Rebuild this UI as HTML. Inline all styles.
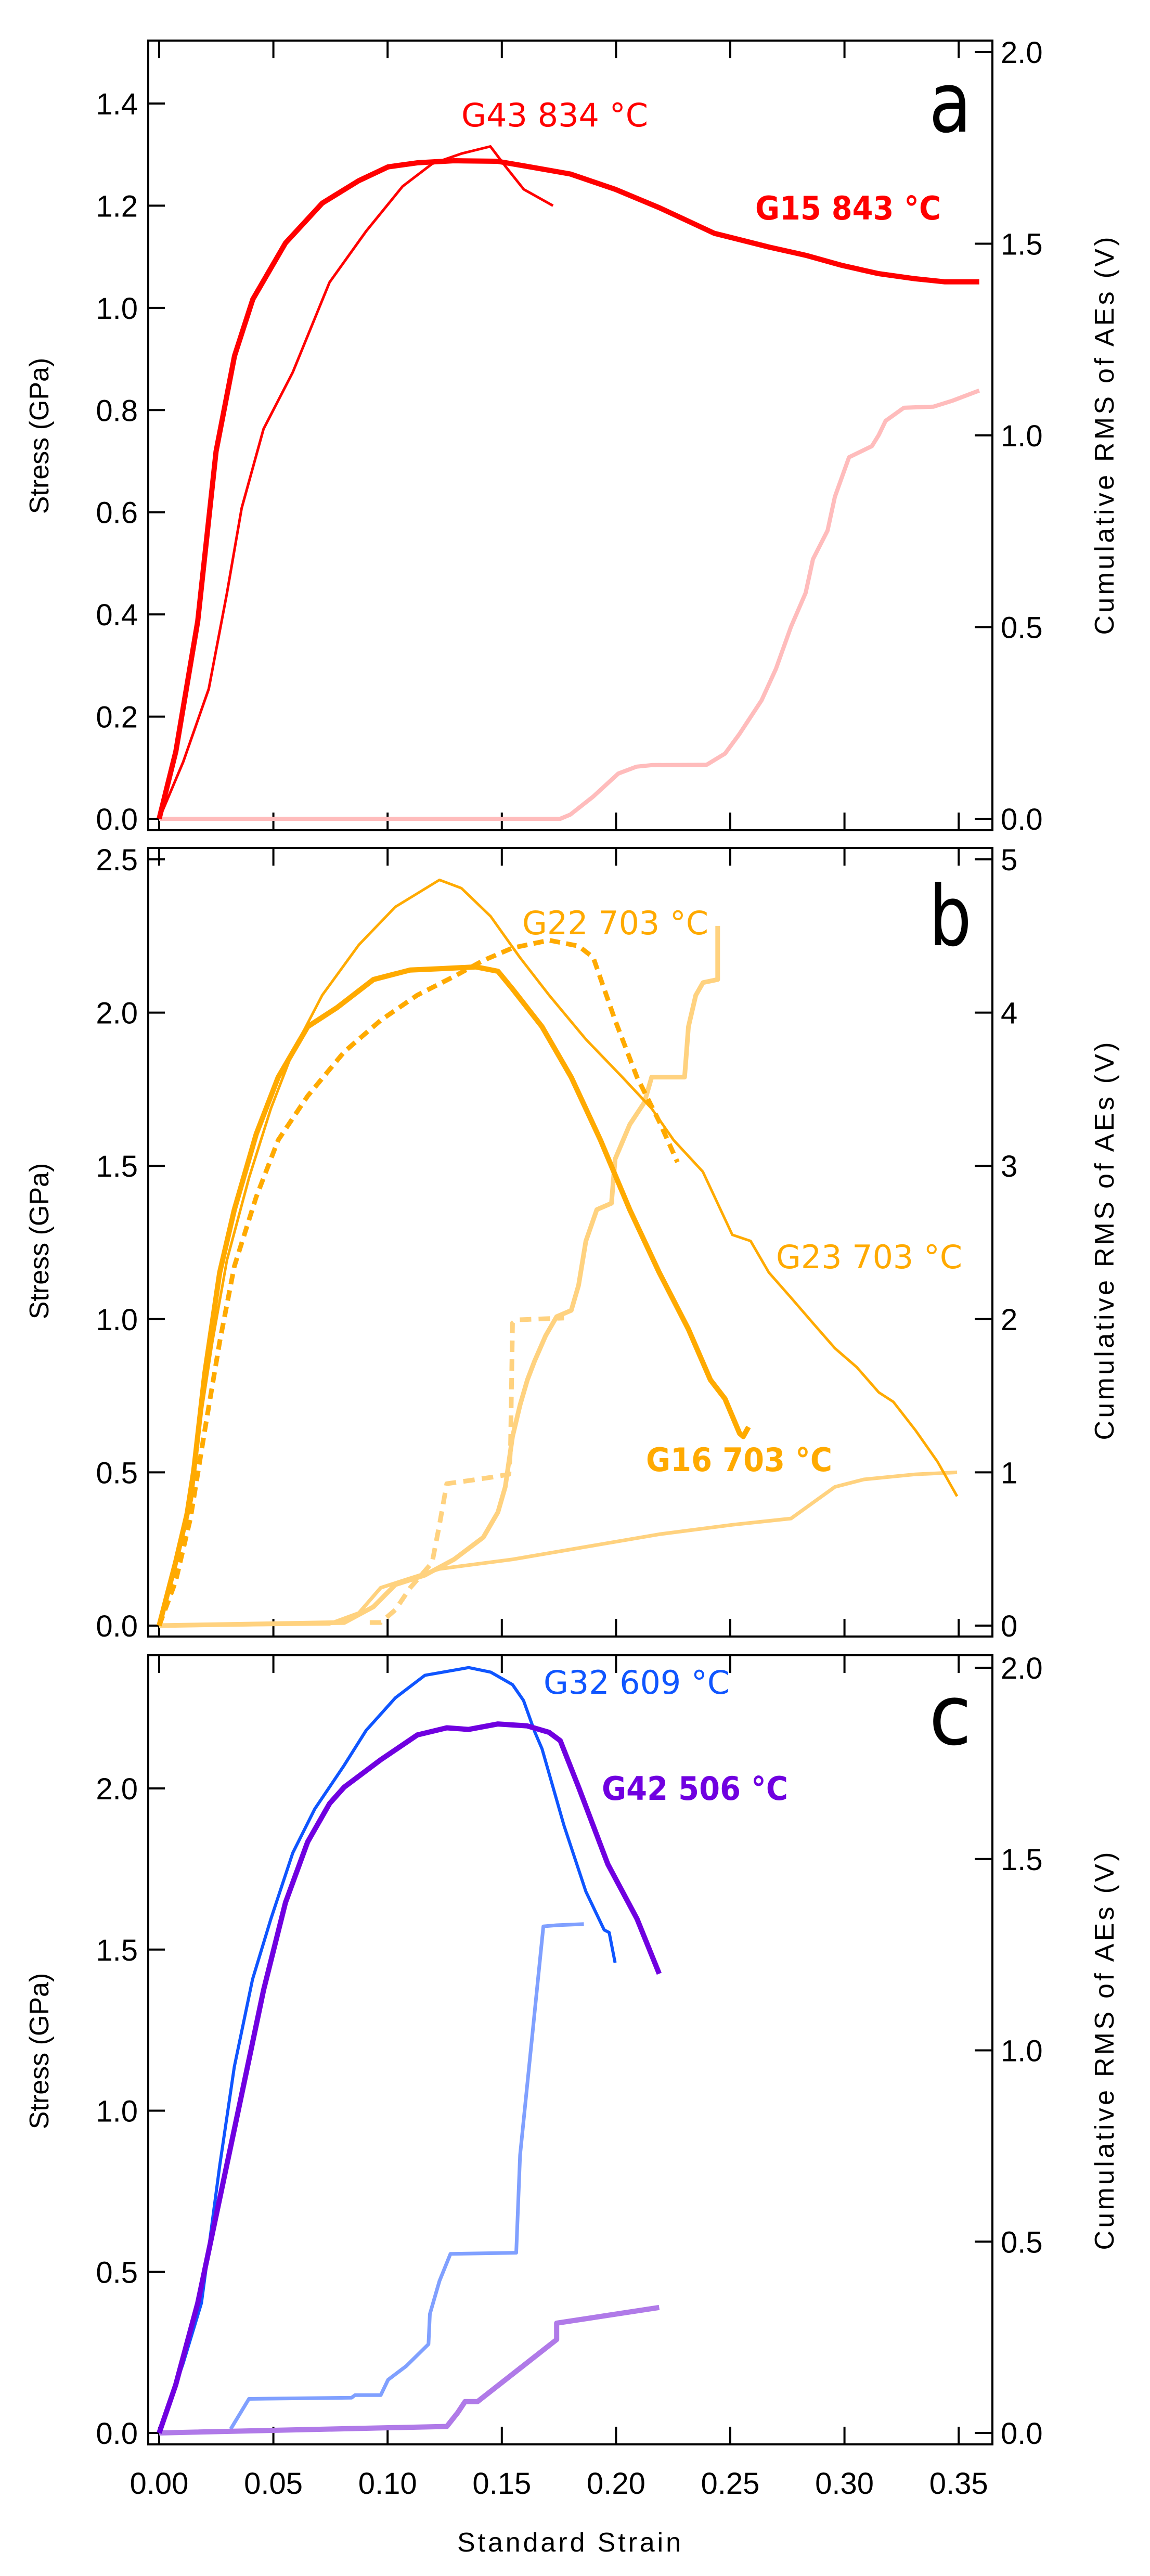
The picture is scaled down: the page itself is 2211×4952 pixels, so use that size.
<!DOCTYPE html>
<html><head><meta charset="utf-8"><style>
html,body{margin:0;padding:0;background:#fff}
svg{display:block}
.tk{font-family:"Liberation Sans",sans-serif;font-size:58px;fill:#000}
.ti{font-family:"Liberation Sans",sans-serif;font-size:52px;fill:#000}
.lb{font-family:"DejaVu Sans",sans-serif;font-size:62px}
.pl{font-family:"DejaVu Sans",sans-serif;font-size:160px;fill:#000}
</style></head><body>
<svg id="chart" width="2211" height="4952" viewBox="0 0 2211 4952" xmlns="http://www.w3.org/2000/svg"></svg>
<script>
// ---------- data (strain, stress GPa / cumulative RMS V) ----------
const xTicks=[0,0.05,0.10,0.15,0.20,0.25,0.30,0.35];
const xTickLabels=["0.00","0.05","0.10","0.15","0.20","0.25","0.30","0.35"];
const aLeftTicks=[0,0.2,0.4,0.6,0.8,1.0,1.2,1.4];
const aRightTicks=[0,0.5,1.0,1.5,2.0];
const bLeftTicks=[0,0.5,1.0,1.5,2.0,2.5];
const bRightTicks=[0,1,2,3,4,5];
const cLeftTicks=[0,0.5,1.0,1.5,2.0];
const cRightTicks=[0,0.5,1.0,1.5,2.0];

const g15Strain=[0,0.0073,0.0169,0.0249,0.033,0.041,0.0553,0.0714,0.0874,0.1002,0.1131,0.129,0.148,0.161,0.18,0.1997,0.219,0.232,0.243,0.267,0.283,0.299,0.315,0.331,0.344,0.359];
const g15Stress=[0,0.132,0.387,0.719,0.906,1.017,1.127,1.205,1.249,1.276,1.284,1.288,1.287,1.277,1.262,1.232,1.196,1.169,1.146,1.119,1.103,1.083,1.067,1.057,1.051,1.051];
const g43Strain=[0,0.0105,0.0217,0.0297,0.0361,0.0457,0.0585,0.0746,0.0906,0.1066,0.1195,0.1323,0.145,0.1516,0.1596,0.1724];
const g43Stress=[0,0.111,0.254,0.442,0.608,0.763,0.874,1.05,1.15,1.238,1.282,1.302,1.316,1.277,1.232,1.20];
const aeAStrain=[0,0.1756,0.180,0.190,0.201,0.209,0.2157,0.2397,0.2477,0.254,0.2637,0.270,0.2766,0.283,0.2862,0.2926,0.2958,0.302,0.312,0.315,0.318,0.326,0.339,0.347,0.359];
const aeAValue=[0,0,0.011,0.058,0.118,0.136,0.14,0.141,0.17,0.221,0.309,0.391,0.501,0.589,0.677,0.752,0.84,0.943,0.972,1.001,1.038,1.072,1.075,1.09,1.117];

const g23Strain=[0,0.0057,0.0105,0.0169,0.0233,0.0297,0.0393,0.0489,0.0585,0.0714,0.0874,0.1034,0.1227,0.1323,0.1451,0.1579,0.1707,0.1868,0.2028,0.2156,0.2252,0.238,0.2509,0.2589,0.2669,0.2766,0.2862,0.2958,0.3054,0.315,0.3214,0.331,0.3407,0.3493];
const g23Stress=[0,0.165,0.309,0.617,0.926,1.193,1.46,1.687,1.872,2.057,2.221,2.345,2.433,2.406,2.314,2.18,2.057,1.913,1.789,1.687,1.584,1.481,1.275,1.255,1.152,1.07,0.987,0.905,0.843,0.761,0.73,0.638,0.535,0.422];
const g16Strain=[0,0.0072,0.0137,0.020,0.0265,0.0329,0.0425,0.0521,0.065,0.0778,0.0938,0.1099,0.1227,0.1387,0.1483,0.1547,0.1676,0.1804,0.1932,0.206,0.2189,0.2317,0.2413,0.2477,0.2541,0.2557,0.258];
const g16Stress=[0,0.206,0.411,0.823,1.152,1.357,1.604,1.789,1.954,2.016,2.108,2.139,2.143,2.149,2.135,2.077,1.954,1.789,1.584,1.357,1.152,0.967,0.802,0.74,0.627,0.617,0.648];
const g22Strain=[0,0.0072,0.0137,0.020,0.0265,0.0329,0.0425,0.0521,0.065,0.081,0.097,0.113,0.1291,0.1419,0.1547,0.1707,0.1836,0.19,0.1996,0.2092,0.2189,0.2269];
const g22Stress=[0,0.144,0.35,0.638,0.926,1.172,1.399,1.584,1.728,1.872,1.975,2.057,2.118,2.17,2.211,2.236,2.217,2.18,1.975,1.789,1.645,1.512];
const aeG23Strain=[0,0.0746,0.0874,0.097,0.1099,0.1227,0.1547,0.1868,0.2189,0.2509,0.2766,0.2862,0.2958,0.3085,0.331,0.3493];
const aeG23Value=[0,0.012,0.082,0.247,0.309,0.37,0.432,0.514,0.596,0.658,0.699,0.802,0.905,0.954,0.987,1.0];
const aeG16Strain=[0,0.081,0.0938,0.1034,0.1163,0.1291,0.1419,0.1483,0.1515,0.1547,0.158,0.1612,0.1644,0.1692,0.174,0.1804,0.1836,0.1868,0.1916,0.198,0.1996,0.206,0.2124,0.2156,0.23,0.2317,0.2349,0.2381,0.2445,0.2445];
const aeG16Value=[0,0.02,0.123,0.267,0.329,0.432,0.576,0.74,0.905,1.234,1.44,1.604,1.728,1.892,2.016,2.057,2.221,2.509,2.715,2.756,3.044,3.27,3.414,3.579,3.579,3.908,4.113,4.196,4.216,4.566];
const aeG22Strain=[0.0922,0.097,0.1034,0.1099,0.1195,0.1227,0.1259,0.1355,0.1451,0.1531,0.1538,0.1547,0.1563,0.1772];
const aeG22Value=[0.02,0.02,0.103,0.247,0.411,0.658,0.926,0.946,0.967,0.987,1.152,1.975,1.995,2.007];

const g32Strain=[0,0.0105,0.0185,0.0265,0.0329,0.0409,0.0489,0.0585,0.0681,0.081,0.0906,0.1034,0.1163,0.1355,0.1451,0.1547,0.1595,0.1644,0.1676,0.1772,0.1868,0.1948,0.197,0.1996];
const g32Stress=[0,0.216,0.403,0.829,1.136,1.408,1.595,1.8,1.936,2.072,2.18,2.281,2.351,2.375,2.361,2.322,2.273,2.176,2.123,1.885,1.68,1.561,1.553,1.459];
const g42Strain=[0,0.0072,0.0169,0.0265,0.0361,0.0457,0.0553,0.065,0.0746,0.081,0.097,0.113,0.1259,0.1355,0.1483,0.1611,0.1707,0.1756,0.1836,0.1964,0.2092,0.2189];
const g42Stress=[0,0.148,0.403,0.727,1.05,1.374,1.646,1.834,1.953,2.004,2.089,2.166,2.188,2.183,2.2,2.194,2.174,2.148,2.004,1.765,1.595,1.425];
const aeG32Strain=[0.0313,0.0393,0.0842,0.0858,0.097,0.1002,0.1082,0.1179,0.1185,0.1227,0.1275,0.1563,0.158,0.1682,0.174,0.1859];
const aeG32Value=[0.01,0.089,0.092,0.099,0.099,0.139,0.175,0.232,0.311,0.397,0.468,0.471,0.726,1.324,1.327,1.33];
const aeG42Strain=[0,0.1259,0.1307,0.1339,0.1394,0.174,0.174,0.2189];
const aeG42Value=[0,0.017,0.053,0.082,0.082,0.244,0.287,0.328];

// ---------- helpers ----------
const NS="http://www.w3.org/2000/svg";
const svg=document.getElementById('chart');
function mk(tag,attrs,parent){const e=document.createElementNS(NS,tag);for(const k in attrs)e.setAttribute(k,attrs[k]);(parent||svg).appendChild(e);return e;}
const X0=306, XPER=4392;
function xs(v){return X0+v*XPER;}
const FL=285, FR=1908;

function panel(name,top,bottom,y0,leftMax,leftPx,rightMax,rightPx,lt,rt,ltFmt,rtFmt,showX,titleY){
  const g=mk('g',{});
  
  
  const yl=v=>y0-v/leftMax*leftPx;
  const yr=v=>y0-v/rightMax*rightPx;
  const fr=mk('rect',{x:FL,y:top,width:FR-FL,height:bottom-top,fill:'none',stroke:'#000','stroke-width':4},g);
  
  
  xTicks.forEach((t,i)=>{
    const x=xs(t);
    const a=mk('line',{x1:x,y1:top,x2:x,y2:top+34,stroke:'#000','stroke-width':4},g);
    
    
    const b=mk('line',{x1:x,y1:bottom,x2:x,y2:bottom-34,stroke:'#000','stroke-width':4},g);
    
    
    if(showX){const tx=mk('text',{x:x,y:bottom+95,'text-anchor':'middle',class:'tk'},g);tx.textContent=xTickLabels[i];
      
      }
  });
  lt.forEach(t=>{const y=yl(t);
    const l=mk('line',{x1:FL,y1:y,x2:FL+32,y2:y,stroke:'#000','stroke-width':4},g);
    
    
    const tx=mk('text',{x:265,y:y+21,'text-anchor':'end',class:'tk'},g);tx.textContent=t.toFixed(ltFmt);
    
    
  });
  rt.forEach(t=>{const y=yr(t);
    const l=mk('line',{x1:FR,y1:y,x2:FR-34,y2:y,stroke:'#000','stroke-width':4},g);
    
    
    const tx=mk('text',{x:1924,y:y+21,'text-anchor':'start',class:'tk'},g);tx.textContent=t.toFixed(rtFmt);
    
    
  });
  const t1=mk('text',{x:0,y:0,'text-anchor':'middle',class:'ti',transform:`translate(93 ${titleY}) rotate(-90)`},g);t1.textContent='Stress (GPa)';
  
  
  const t2=mk('text',{x:0,y:0,'text-anchor':'middle',class:'ti',transform:`translate(2141 ${titleY}) rotate(-90)`,textLength:765},g);t2.textContent='Cumulative RMS of AEs (V)';
  
  
  return {g,yl,yr};
}
function line(p,xsArr,ysArr,yf,color,w,nm,dash){
  const d=xsArr.map((v,i)=>(i?'L':'M')+xs(v).toFixed(1)+' '+yf(ysArr[i]).toFixed(1)).join(' ');
  const a={d:d,fill:'none',stroke:color,'stroke-width':w,'stroke-linejoin':'round','stroke-linecap':'butt'};
  if(dash)a['stroke-dasharray']=dash;
  const e=mk('path',a,p.g);
  
  
}
function label(p,txt,x,y,color,bold,len,nm){
  const a={x:x,y:y,class:'lb',fill:color};
  if(bold)a['font-weight']='bold';
  if(len){a.textLength=len;a.lengthAdjust='spacingAndGlyphs';}
  const e=mk('text',a,p.g);e.textContent=txt;
  
  
}
function plabel(p,txt,y,nm){
  const e=mk('text',{x:1786,y:y,class:'pl',textLength:82,lengthAdjust:'spacingAndGlyphs'},p.g);e.textContent=txt;
  
  
}

// ---------- panel a ----------
const pa=panel('panel-a',78,1596,1574,1.4,1375,2.0,1474,aLeftTicks,aRightTicks,1,1,false,838);
line(pa,aeAStrain,aeAValue,pa.yr,'#ffbcbc',8,'ae-rms-g15');
line(pa,g43Strain,g43Stress,pa.yl,'#ff0000',5,'stress-g43');
line(pa,g15Strain,g15Stress,pa.yl,'#ff0000',10,'stress-g15');
label(pa,'G43 834 °C',887,243,'#ff0000',false,359,'label-g43');
label(pa,'G15 843 °C',1452,422,'#ff0000',true,357,'label-g15');
plabel(pa,'a',253,'panel-label-a');

// ---------- panel b ----------
const pb=panel('panel-b',1630,3146,3125,2.5,1473,5,1473,bLeftTicks,bRightTicks,1,0,false,2386);
line(pb,aeG23Strain,aeG23Value,pb.yr,'#ffd27f',7,'ae-rms-g23');
line(pb,aeG16Strain,aeG16Value,pb.yr,'#ffd27f',9,'ae-rms-g16');
line(pb,aeG22Strain,aeG22Value,pb.yr,'#ffd27f',9,'ae-rms-g22','22 14');
line(pb,g23Strain,g23Stress,pb.yl,'#ffaa00',5,'stress-g23');
line(pb,g22Strain,g22Stress,pb.yl,'#ffaa00',9,'stress-g22','20 12');
line(pb,g16Strain,g16Stress,pb.yl,'#ffaa00',10,'stress-g16');
label(pb,'G22 703 °C',1004,1796,'#ffaa00',false,358,'label-g22');
label(pb,'G23 703 °C',1492,2438,'#ffaa00',false,358,'label-g23');
label(pb,'G16 703 °C',1242,2828,'#ffaa00',true,358,'label-g16');
plabel(pb,'b',1817,'panel-label-b');

// ---------- panel c ----------
const pc=panel('panel-c',3182,4699,4677,2.0,1239,2.0,1471,cLeftTicks,cRightTicks,1,1,true,3943);
line(pc,aeG32Strain,aeG32Value,pc.yr,'#80a0ff',7,'ae-rms-g32');
line(pc,aeG42Strain,aeG42Value,pc.yr,'#b07ae8',10,'ae-rms-g42');
line(pc,g32Strain,g32Stress,pc.yl,'#0f55ff',6,'stress-g32');
line(pc,g42Strain,g42Stress,pc.yl,'#7000e0',10,'stress-g42');
label(pc,'G32 609 °C',1045,3256,'#0f55ff',false,358,'label-g32');
label(pc,'G42 506 °C',1157,3460,'#7000e0',true,358,'label-g42');
plabel(pc,'c',3353,'panel-label-c');

const xt=mk('text',{x:1094,y:4905,'text-anchor':'middle',class:'ti',textLength:430});
xt.textContent='Standard Strain';


</script>
</body></html>
